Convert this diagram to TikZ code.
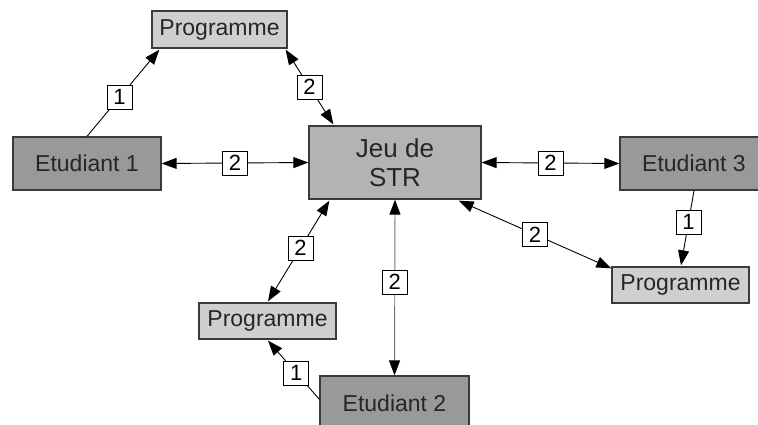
\documentclass[tikz,border=0pt]{standalone}
\usepackage{fontspec}
\setmainfont{Liberation Sans}
\usetikzlibrary{arrows.meta,calc}
\definecolor{progfill}{HTML}{CFCFCF}
\definecolor{jeufill}{HTML}{B3B3B3}
\definecolor{etufill}{HTML}{999999}
\definecolor{bord}{HTML}{3A3A3A}
\tikzset{
  box/.style={draw=bord,line width=1.3pt,inner sep=0pt,align=center,font=\fontsize{23}{29}\selectfont,text=black!85},
  prog/.style={box,fill=progfill},
  jeu/.style={box,fill=jeufill,font=\fontsize{26}{29}\selectfont},
  etu/.style={box,fill=etufill},
  lab/.style={draw=black,line width=0.8pt,fill=white,inner sep=0pt,minimum width=25pt,minimum height=24pt,font=\fontsize{22}{22}\selectfont},
  con/.style={line width=0.9pt,draw=black},
  tip/.style={-{Triangle[length=15pt,width=11pt,color=black]}},
  both/.style={{Triangle[length=15pt,width=11pt,color=black]}-{Triangle[length=15pt,width=11pt,color=black]}}
}
\begin{document}
\begin{tikzpicture}[x=1pt,y=-1pt]
\useasboundingbox (0,0) rectangle (758,425);
\node[prog,minimum width=135pt,minimum height=37pt] (p1) at (219.5,29.5) {Programme};
\node[etu,minimum width=148pt,minimum height=53pt] (e1) at (87,163.5) {Etudiant 1};
\node[jeu,minimum width=172pt,minimum height=73pt] (j) at (395,162.5) {Jeu de\\STR};
\node[etu,minimum width=148pt,minimum height=53pt] (e3) at (694,163.5) {Etudiant 3};
\node[prog,minimum width=137pt,minimum height=36pt] (p3) at (680.5,285) {Programme};
\node[prog,minimum width=137pt,minimum height=36pt] (p2) at (267.5,321) {Programme};
\node[etu,minimum width=149pt,minimum height=54pt] (e2) at (394.5,403) {Etudiant 2};

% Etudiant 1 -> Programme
\draw[con,tip] (e1.north) -- node[lab,pos=0.45] {1} ($(p1.south west)+(8,1)$);
% Programme <-> Jeu
\draw[con,both] ($(p1.south east)+(-2,1)$) -- node[lab] {2} ($(j.north west)+(25,-1)$);
% Etudiant 1 <-> Jeu
\draw[con,both] (e1.east) -- node[lab] {2} (j.west);
% Jeu <-> Etudiant 3
\draw[con,both] (j.east) -- node[lab] {2} (e3.west);
% Etudiant 3 -> Programme
\draw[con,tip] (e3.south) -- node[lab,pos=0.42] {1} ($(p3.north)+(0.5,-1)$);
% Jeu <-> Programme (right)
\draw[con,both] ($(j.south east)+(-23,1)$) -- node[lab] {2} ($(p3.north west)+(0,2)$);
% Jeu <-> Programme (bottom left)
\draw[con,both] ($(j.south west)+(21,1)$) -- node[lab,pos=0.47] {2} ($(p2.north)+(0.5,-1)$);
% Jeu <-> Etudiant 2
\draw[con,draw=black!55,both] (j.south) -- node[lab,pos=0.47] {2} (e2.north);
% Etudiant 2 -> Programme
\draw[con,tip] ($(e2.north west)+(0,24)$) -- node[lab,pos=0.45] {1} ($(p2.south)+(0.5,1)$);
\end{tikzpicture}
\end{document}
